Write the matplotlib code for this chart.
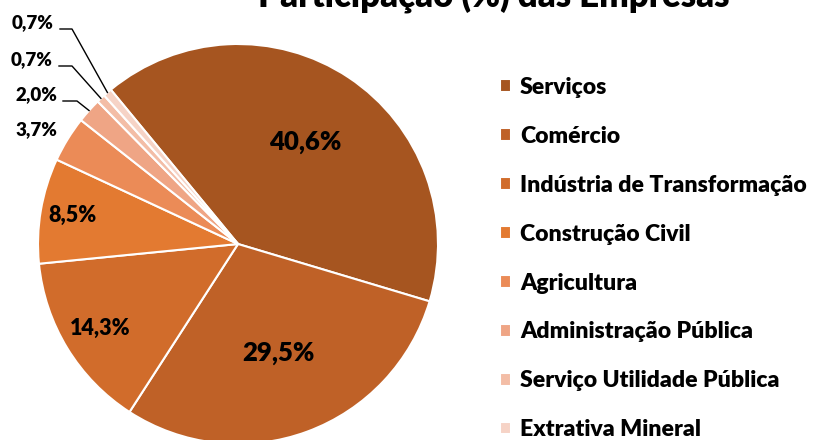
import numpy as np
import matplotlib
matplotlib.use("Agg")
import matplotlib.pyplot as plt

# data
sectors = [
    "Serviços",
    "Comércio",
    "Indústria de Transformação",
    "Construção Civil",
    "Agricultura",
    "Administração Pública",
    "Serviço Utilidade Pública",
    "Extrativa Mineral",
]
shares = [40.6, 29.5, 14.3, 8.5, 3.7, 2.0, 0.7, 0.7]
colors = ["#A65520", "#BF6127", "#D16C2B", "#E37A31",
          "#EB8B57", "#EFA585", "#F3BDA6", "#F6D3C6"]

FONT = "Lato"
WEIGHT = "heavy"

W, H = 815, 440
fig = plt.figure(figsize=(W / 100, H / 100), dpi=100)

# pie centred at (238, 244) px with radius 200 px
cx, cy, r = 238, 244, 200
ax = fig.add_axes([(cx - r) / W, 1 - (cy + r) / H, 2 * r / W, 2 * r / H])
start = 129.5
wedges, _ = ax.pie(shares, colors=colors, startangle=start, counterclock=False,
                   wedgeprops=dict(edgecolor="white", linewidth=1.5))
ax.set_xlim(-1, 1)
ax.set_ylim(-1, 1)
ax.set_aspect("equal")
ax.axis("off")

# mid angle of each wedge
mids = [np.deg2rad((w.theta1 + w.theta2) / 2) for w in wedges]


def fmt(v):
    return f"{v:.1f}%".replace(".", ",")


# labels inside the big slices: radial distance, font size
inside = {0: (0.61, 18.5), 1: (0.58, 18.5), 2: (0.81, 15.5), 3: (0.84, 15.5)}
for i, (dist, fs) in inside.items():
    ax.text(dist * np.cos(mids[i]), dist * np.sin(mids[i]), fmt(shares[i]),
            ha="center", va="center", fontsize=fs, family=FONT, fontweight=WEIGHT)

# small slices: label on the left, with leader lines for the tiniest ones
outside = {4: (-1.01, 0.57, None), 5: (-1.01, 0.745, -0.805),
           6: (-1.03, 0.92, -0.83), 7: (-1.025, 1.105, -0.83)}
for i, (tx, ty, elbow) in outside.items():
    ax.text(tx, ty, fmt(shares[i]), ha="center", va="center",
            fontsize=13.5, family=FONT, fontweight=WEIGHT, clip_on=False)
    if elbow is not None:
        ly = ty - 0.03
        ex, ey = np.cos(mids[i]), np.sin(mids[i])
        ax.plot([tx + 0.135, elbow, ex], [ly, ly, ey], color="black",
                linewidth=1.0, clip_on=False)

fig.text(494 / W, 1 - 7.5 / H, "Participação (%) das Empresas", ha="center",
         va="baseline", fontsize=25, family=FONT, fontweight=WEIGHT)

fig.legend(wedges, sectors, loc="upper left",
           bbox_to_anchor=(500 / W, 1 - 77 / H), frameon=False,
           borderpad=0, borderaxespad=0,
           handlelength=0.47, handleheight=0.47, handletextpad=0.4,
           labelspacing=1.21, prop=dict(family=FONT, weight=WEIGHT, size=16.6))

fig.savefig("out.png", dpi=100)
